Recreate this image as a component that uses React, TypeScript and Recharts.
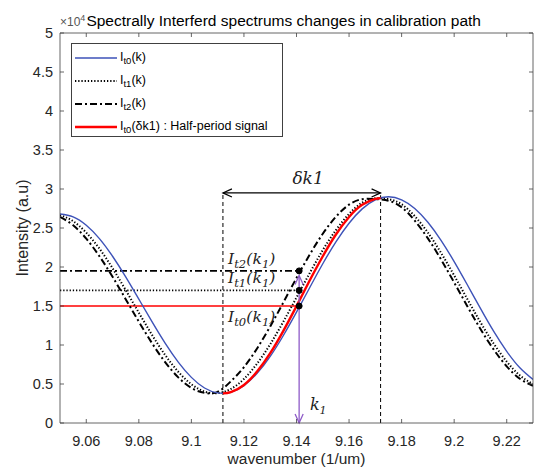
import React from 'react';
import { LineChart, Line, XAxis, YAxis, ReferenceLine, ReferenceDot, Legend } from 'recharts';

// ---- data ----
const wavenumber = [
  9.05, 9.055, 9.06, 9.065, 9.07, 9.075, 9.08, 9.085, 9.09, 9.095, 9.1, 9.105, 9.11,
  9.115, 9.12, 9.125, 9.13, 9.135, 9.14, 9.145, 9.15, 9.155, 9.16, 9.165, 9.17, 9.175,
  9.18, 9.185, 9.19, 9.195, 9.2, 9.205, 9.21, 9.215, 9.22, 9.225, 9.23,
];
const It0 = [
  2.68, 2.643, 2.535, 2.364, 2.138, 1.874, 1.588, 1.299, 1.024, 0.781, 0.585, 0.449, 0.386,
  0.394, 0.48, 0.636, 0.854, 1.122, 1.421, 1.734, 2.042, 2.322, 2.561, 2.745, 2.861, 2.9,
  2.862, 2.751, 2.574, 2.342, 2.069, 1.772, 1.469, 1.177, 0.919, 0.708, 0.558,
];
const It1 = [
  2.667, 2.587, 2.44, 2.236, 1.984, 1.704, 1.414, 1.131, 0.872, 0.657, 0.497, 0.403, 0.382,
  0.436, 0.565, 0.761, 1.01, 1.299, 1.609, 1.92, 2.216, 2.473, 2.681, 2.825, 2.88, 2.87,
  2.804, 2.652, 2.441, 2.181, 1.892, 1.589, 1.291, 1.02, 0.788, 0.61, 0.498,
];
const It2 = [
  2.643, 2.535, 2.364, 2.138, 1.874, 1.588, 1.299, 1.024, 0.781, 0.585, 0.449, 0.386, 0.4,
  0.534, 0.716, 0.956, 1.238, 1.546, 1.859, 2.158, 2.426, 2.644, 2.799, 2.87, 2.87, 2.85,
  2.766, 2.595, 2.367, 2.097, 1.801, 1.498, 1.205, 0.944, 0.727, 0.567, 0.478,
];
const halfPeriodK = [9.112, 9.115, 9.12, 9.125, 9.13, 9.135, 9.14, 9.145, 9.15, 9.155, 9.16, 9.165, 9.17, 9.172];
const halfPeriodI = [0.38, 0.395, 0.488, 0.659, 0.895, 1.182, 1.499, 1.826, 2.138, 2.417, 2.641, 2.797, 2.873, 2.88];

const xTicks = [9.06, 9.08, 9.1, 9.12, 9.14, 9.16, 9.18, 9.2, 9.22];
const yTicks = [0, 0.5, 1, 1.5, 2, 2.5, 3, 3.5, 4, 4.5, 5];
const xDomain = [9.05, 9.23];
const yDomain = [0, 5];

const k1 = 9.141;
const levelT0 = 1.5;
const levelT1 = 1.7;
const levelT2 = 1.95;
const deltaStart = 9.112;
const deltaEnd = 9.172;
const deltaLevel = 2.95;
const deltaEndTop = 2.92;

const legendLabels = [
  { main: 'I', sub: 't0', rest: '(k)' },
  { main: 'I', sub: 't1', rest: '(k)' },
  { main: 'I', sub: 't2', rest: '(k)' },
  { main: 'I', sub: 't0', rest: '(\u03B4k1) : Half-period signal' },
];

const titleText = 'Spectrally Interferd spectrums changes in calibration path';
const xLabel = 'wavenumber (1/um)';
const yLabel = 'Intensity (a.u)';

// ---- styles ----
const BLUE = '#3d52b8';
const RED = '#ff0000';
const PURPLE = '#8e5bc8';
const AX = '#404040';
const TXT = '#262626';
const SANS = '"Liberation Sans", Arial, Helvetica, sans-serif';
const SERIF = '"DejaVu Serif", "Liberation Serif", serif';
const DOT_DASH = '1.3 1.9';
const DASH_DOT = '7 3 2 3';

const seriesStyles = [
  { stroke: BLUE, width: 1.4, dash: undefined as string | undefined },
  { stroke: '#000', width: 2, dash: DOT_DASH },
  { stroke: '#000', width: 2, dash: DASH_DOT },
  { stroke: RED, width: 2.4, dash: undefined as string | undefined },
];

const mainRows = wavenumber.map((k, i) => ({ k, t0: It0[i], t1: It1[i], t2: It2[i] }));
const redRows = halfPeriodK.map((k, i) => ({ k, v: halfPeriodI[i] }));

const fmt = (v: number) => String(Number(v.toFixed(3)));

const BottomTick = (p: any) => (
  <g>
    <line x1={p.x} y1={p.y} x2={p.x} y2={p.y - 4} stroke={AX} strokeWidth={0.8} />
    <text x={p.x} y={p.y + 23} textAnchor="middle" fontSize={14.5} fontFamily={SANS} fill={TXT}>
      {fmt(p.payload.value)}
    </text>
  </g>
);
const TopTick = (p: any) => (
  <line x1={p.x} y1={p.y} x2={p.x} y2={p.y + 4} stroke={AX} strokeWidth={0.8} />
);
const LeftTick = (p: any) => (
  <g>
    <line x1={p.x} y1={p.y} x2={p.x + 4} y2={p.y} stroke={AX} strokeWidth={0.8} />
    <text x={p.x - 7} y={p.y + 5} textAnchor="end" fontSize={14.5} fontFamily={SANS} fill={TXT}>
      {fmt(p.payload.value)}
    </text>
  </g>
);
const RightTick = (p: any) => (
  <line x1={p.x} y1={p.y} x2={p.x - 4} y2={p.y} stroke={AX} strokeWidth={0.8} />
);

const makeArrow = (color: string, width: number, size: number) => (p: any) => {
  const { x1, y1, x2, y2 } = p;
  const dx = x2 - x1;
  const dy = y2 - y1;
  const len = Math.hypot(dx, dy) || 1;
  const ux = dx / len;
  const uy = dy / len;
  const nx = -uy;
  const ny = ux;
  const w = size * 0.45;
  const head = (px: number, py: number, sx: number, sy: number) =>
    `${px - sx * size + nx * w},${py - sy * size + ny * w} ${px},${py} ${px - sx * size - nx * w},${py - sy * size - ny * w}`;
  return (
    <g>
      <line x1={x1} y1={y1} x2={x2} y2={y2} stroke={color} strokeWidth={width} />
      <polyline points={head(x2, y2, ux, uy)} fill="none" stroke={color} strokeWidth={width} />
      <polyline points={head(x1, y1, -ux, -uy)} fill="none" stroke={color} strokeWidth={width} />
    </g>
  );
};

const mathLabel = (sub: string) => (p: any) => (
  <text x={p.cx} y={p.cy} fontFamily={SERIF} fontStyle="italic" fontSize={15.5} fill="#222" letterSpacing={0.1}>
    I<tspan dy={4} fontSize={11.5}>{sub}</tspan>
    <tspan dy={-4}>(k</tspan>
    <tspan dy={4} fontSize={11.5}>1</tspan>
    <tspan dy={-4}>)</tspan>
  </text>
);

const deltaLabel = (p: any) => (
  <text x={p.cx} y={p.cy} textAnchor="middle" fontFamily={SERIF} fontStyle="italic" fontSize={17} fill="#222">
    {'\u03B4k1'}
  </text>
);
const k1Label = (p: any) => (
  <text x={p.cx} y={p.cy} fontFamily={SERIF} fontStyle="italic" fontSize={16} fill="#222">
    k<tspan dy={4} fontSize={11}>1</tspan>
  </text>
);

const renderLegend = () => (
  <div
    style={{
      width: 212,
      height: 94,
      boxSizing: 'border-box',
      border: `1px solid ${AX}`,
      background: '#fff',
      paddingTop: 2,
      fontFamily: SANS,
      fontSize: 12.5,
      color: '#000',
    }}
  >
    {legendLabels.map((l, i) => {
      const s = seriesStyles[i];
      return (
        <div key={i} style={{ height: 23, display: 'flex', alignItems: 'center', whiteSpace: 'nowrap' }}>
          <svg width={46} height={10} style={{ marginLeft: 2, marginRight: 0 }}>
            <line x1={1} y1={5} x2={43} y2={5} stroke={s.stroke} strokeWidth={s.width} strokeDasharray={s.dash} />
          </svg>
          <span>
            {l.main}
            <sub style={{ fontSize: 9.5, verticalAlign: -3 }}>{l.sub}</sub>
            {l.rest}
          </span>
        </div>
      );
    })}
  </div>
);

export default function App() {
  return (
    <div style={{ position: 'absolute', left: 0, top: 0, width: 535, height: 470, background: '#fff' }}>
      <LineChart width={535} height={470} data={mainRows} margin={{ top: 3, right: 0, bottom: 0, left: 0 }}>
        <XAxis
          dataKey="k"
          type="number"
          domain={xDomain}
          ticks={xTicks}
          interval={0}
          height={47}
          tickSize={0}
          tickMargin={0}
          tick={BottomTick}
          axisLine={{ stroke: AX, strokeWidth: 0.8 }}
          allowDataOverflow
          label={(lp: any) => {
            const vb = lp.viewBox || { x: 60, y: 423, width: 473, height: 47 };
            return (
              <text x={vb.x + vb.width / 2} y={vb.y + 41} textAnchor="middle" fontSize={15.5} fontFamily={SANS} fill={TXT}>
                {xLabel}
              </text>
            );
          }}
        />
        <XAxis
          xAxisId="top"
          orientation="top"
          dataKey="k"
          type="number"
          domain={xDomain}
          ticks={xTicks}
          interval={0}
          height={30}
          tickSize={0}
          tickMargin={0}
          tick={TopTick}
          axisLine={{ stroke: AX, strokeWidth: 0.8 }}
          allowDataOverflow
        />
        <YAxis
          type="number"
          domain={yDomain}
          ticks={yTicks}
          interval={0}
          width={60}
          tickSize={0}
          tickMargin={0}
          tick={LeftTick}
          axisLine={{ stroke: AX, strokeWidth: 0.8 }}
          allowDataOverflow
          label={(lp: any) => {
            const vb = lp.viewBox || { x: 0, y: 33, width: 60, height: 390 };
            const cx = vb.x + 22;
            const cy = vb.y + vb.height / 2;
            return (
              <text x={cx} y={cy} transform={`rotate(-90, ${cx}, ${cy})`} textAnchor="middle" dominantBaseline="central" fontSize={16} fontFamily={SANS} fill={TXT}>
                {yLabel}
              </text>
            );
          }}
        />
        <YAxis
          yAxisId="right"
          orientation="right"
          type="number"
          domain={yDomain}
          ticks={yTicks}
          interval={0}
          width={2}
          tickSize={0}
          tickMargin={0}
          tick={RightTick}
          axisLine={{ stroke: AX, strokeWidth: 0.8 }}
          allowDataOverflow
        />

        <Legend layout="vertical" align="center" verticalAlign="middle" wrapperStyle={{ left: 71, top: 43, width: 212, height: 94 }} content={renderLegend} />

        {/* level lines */}
        <ReferenceLine segment={[{ x: xDomain[0], y: levelT2 }, { x: k1, y: levelT2 }]} stroke="#000" strokeWidth={1.6} strokeDasharray={DASH_DOT} />
        <ReferenceLine segment={[{ x: xDomain[0], y: levelT1 }, { x: k1, y: levelT1 }]} stroke="#000" strokeWidth={1.6} strokeDasharray={DOT_DASH} />
        <ReferenceLine segment={[{ x: xDomain[0], y: levelT0 }, { x: k1, y: levelT0 }]} stroke={RED} strokeWidth={1.5} />

        {/* dashed verticals */}
        <ReferenceLine segment={[{ x: deltaStart, y: 0 }, { x: deltaStart, y: deltaLevel }]} stroke="#000" strokeWidth={1} strokeDasharray="4 3" />
        <ReferenceLine segment={[{ x: deltaEnd, y: 0 }, { x: deltaEnd, y: deltaEndTop }]} stroke="#000" strokeWidth={1} strokeDasharray="4 3" />

        <Line dataKey="t2" type="natural" stroke="#000" strokeWidth={2} strokeDasharray={DASH_DOT} dot={false} isAnimationActive={false} />
        <Line dataKey="t1" type="natural" stroke="#000" strokeWidth={2} strokeDasharray={DOT_DASH} dot={false} isAnimationActive={false} />
        <Line dataKey="t0" type="natural" stroke={BLUE} strokeWidth={1.4} dot={false} isAnimationActive={false} />
        <Line data={redRows} dataKey="v" type="natural" stroke={RED} strokeWidth={2.4} dot={false} isAnimationActive={false} />

        {/* arrows */}
        <ReferenceLine segment={[{ x: deltaStart, y: deltaLevel }, { x: deltaEnd, y: deltaLevel }]} shape={makeArrow('#000', 1.2, 9)} />
        <ReferenceLine segment={[{ x: k1, y: levelT2 - 0.06 }, { x: k1, y: 0 }]} shape={makeArrow(PURPLE, 1.3, 9)} />

        {/* points at k1 */}
        <ReferenceDot x={k1} y={levelT0} r={3} fill="#000" stroke="#000" />
        <ReferenceDot x={k1} y={levelT1} r={3} fill="#000" stroke="#000" />
        <ReferenceDot x={k1} y={levelT2} r={3} fill="#000" stroke="#000" />

        {/* annotations */}
        <ReferenceDot x={9.1139} y={2.04} r={0} shape={mathLabel('t2')} />
        <ReferenceDot x={9.1139} y={1.8} r={0} shape={mathLabel('t1')} />
        <ReferenceDot x={9.1139} y={1.29} r={0} shape={mathLabel('t0')} />
        <ReferenceDot x={9.1444} y={3.07} r={0} shape={deltaLabel} />
        <ReferenceDot x={9.1451} y={0.17} r={0} shape={k1Label} />
      </LineChart>

      <div style={{ position: 'absolute', left: 60, top: 9, whiteSpace: 'nowrap', fontFamily: SANS, lineHeight: '18px' }}>
        <span style={{ fontSize: 12, color: '#555' }}>{'\u00D710'}</span>
        <sup style={{ fontSize: 9, color: '#555', verticalAlign: 5 }}>4</sup>
        <span style={{ fontSize: 15.5, color: '#000', marginLeft: 1 }}>{titleText}</span>
      </div>
    </div>
  );
}
